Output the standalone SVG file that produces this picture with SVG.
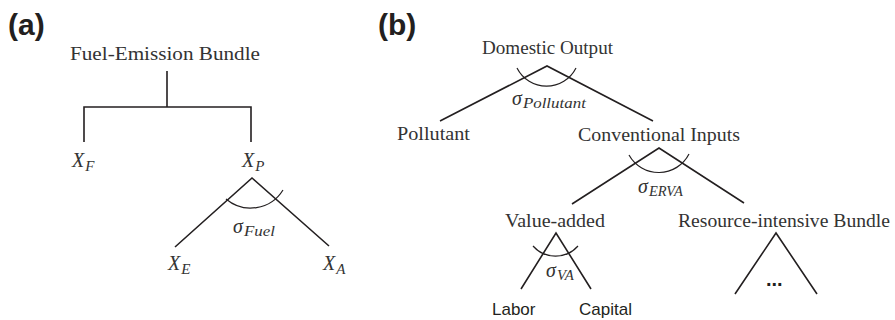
<svg xmlns="http://www.w3.org/2000/svg" width="895" height="320" viewBox="0 0 895 320">
<style>
.bg{fill:#ffffff}
.panel{font-family:"Liberation Sans",Arial,sans-serif;font-weight:bold;font-size:30px;fill:#231f20}
.lbl{font-family:"Liberation Serif","Times New Roman",serif;font-size:19px;fill:#333333}
.sans{font-family:"Liberation Sans",Arial,sans-serif;font-size:17px;fill:#231f20}
.mx{font-family:"Liberation Serif","Times New Roman",serif;font-style:italic;font-size:20px;fill:#333333}
.sub{font-size:15px}
.ln{fill:none;stroke:#231f20;stroke-width:1.6}
.arc{fill:none;stroke:#231f20;stroke-width:1.2}
.dots{font-family:"Liberation Sans",Arial,sans-serif;font-weight:bold;font-size:20px;fill:#231f20}
</style>
<rect class="bg" x="0" y="0" width="895" height="320"/>

<text class="panel" x="8" y="35">(a)</text>
<text class="panel" x="378" y="35">(b)</text>

<g id="connectors">
  <path class="ln" d="M167,71 V107 M84,142 V107 H251 V142"/>
  <path class="ln" d="M175,247 L252,178 L329,246"/>
  <path class="arc" d="M226,199 A38,38 0 0 0 283,190"/>
  <path class="ln" d="M440,121 L547,66 L653,121"/>
  <path class="arc" d="M517,68 A33,33 0 0 0 576,68"/>
  <path class="ln" d="M572,204 L659,148 L744,203"/>
  <path class="arc" d="M629,155 A34,34 0 0 0 689,154"/>
  <path class="ln" d="M521,289 L556,233 L591,289"/>
  <path class="arc" d="M533,246 A30,30 0 0 0 578,246"/>
  <path class="ln" d="M735,294 L776,233 L817,294"/>
</g>

<g id="fuel-emission-bundle">
  <text class="lbl" x="70" y="60" textLength="190" lengthAdjust="spacingAndGlyphs">Fuel-Emission Bundle</text>
</g>
<g id="xf">
  <text class="mx" x="72" y="167">X<tspan class="sub" dx="1" dy="4">F</tspan></text>
</g>
<g id="xp">
  <text class="mx" x="242" y="167">X<tspan class="sub" dx="1" dy="4">P</tspan></text>
</g>
<g id="sigma-fuel">
  <text class="mx" x="233" y="233">σ<tspan class="sub" dx="1" dy="3" textLength="31" lengthAdjust="spacingAndGlyphs">Fuel</tspan></text>
</g>
<g id="xe">
  <text class="mx" x="168" y="270">X<tspan class="sub" dx="1" dy="4">E</tspan></text>
</g>
<g id="xa">
  <text class="mx" x="323" y="270">X<tspan class="sub" dx="1" dy="4">A</tspan></text>
</g>

<g id="domestic-output">
  <text class="lbl" x="482" y="54" textLength="131" lengthAdjust="spacingAndGlyphs">Domestic Output</text>
</g>
<g id="sigma-pollutant">
  <text class="mx" x="512" y="105">σ<tspan class="sub" dx="1" dy="3" textLength="63" lengthAdjust="spacingAndGlyphs">Pollutant</tspan></text>
</g>
<g id="pollutant">
  <text class="lbl" x="397" y="140" textLength="73" lengthAdjust="spacingAndGlyphs">Pollutant</text>
</g>
<g id="conventional-inputs">
  <text class="lbl" x="578" y="141" textLength="162" lengthAdjust="spacingAndGlyphs">Conventional Inputs</text>
</g>
<g id="sigma-erva">
  <text class="mx" x="638" y="193">σ<tspan class="sub" dx="1" dy="3" textLength="34" lengthAdjust="spacingAndGlyphs">ERVA</tspan></text>
</g>
<g id="value-added">
  <text class="lbl" x="505" y="227" textLength="100" lengthAdjust="spacingAndGlyphs">Value-added</text>
</g>
<g id="resource-intensive-bundle">
  <text class="lbl" x="678" y="227" textLength="212" lengthAdjust="spacingAndGlyphs">Resource-intensive Bundle</text>
</g>
<g id="sigma-va">
  <text class="mx" x="546" y="277">σ<tspan class="sub" dx="1" dy="3" textLength="17" lengthAdjust="spacingAndGlyphs">VA</tspan></text>
</g>
<g id="labor">
  <text class="sans" x="492" y="315">Labor</text>
</g>
<g id="capital">
  <text class="sans" x="579" y="315">Capital</text>
</g>
<g id="resource-children">
  <text class="dots" x="766" y="286">...</text>
</g>
</svg>
